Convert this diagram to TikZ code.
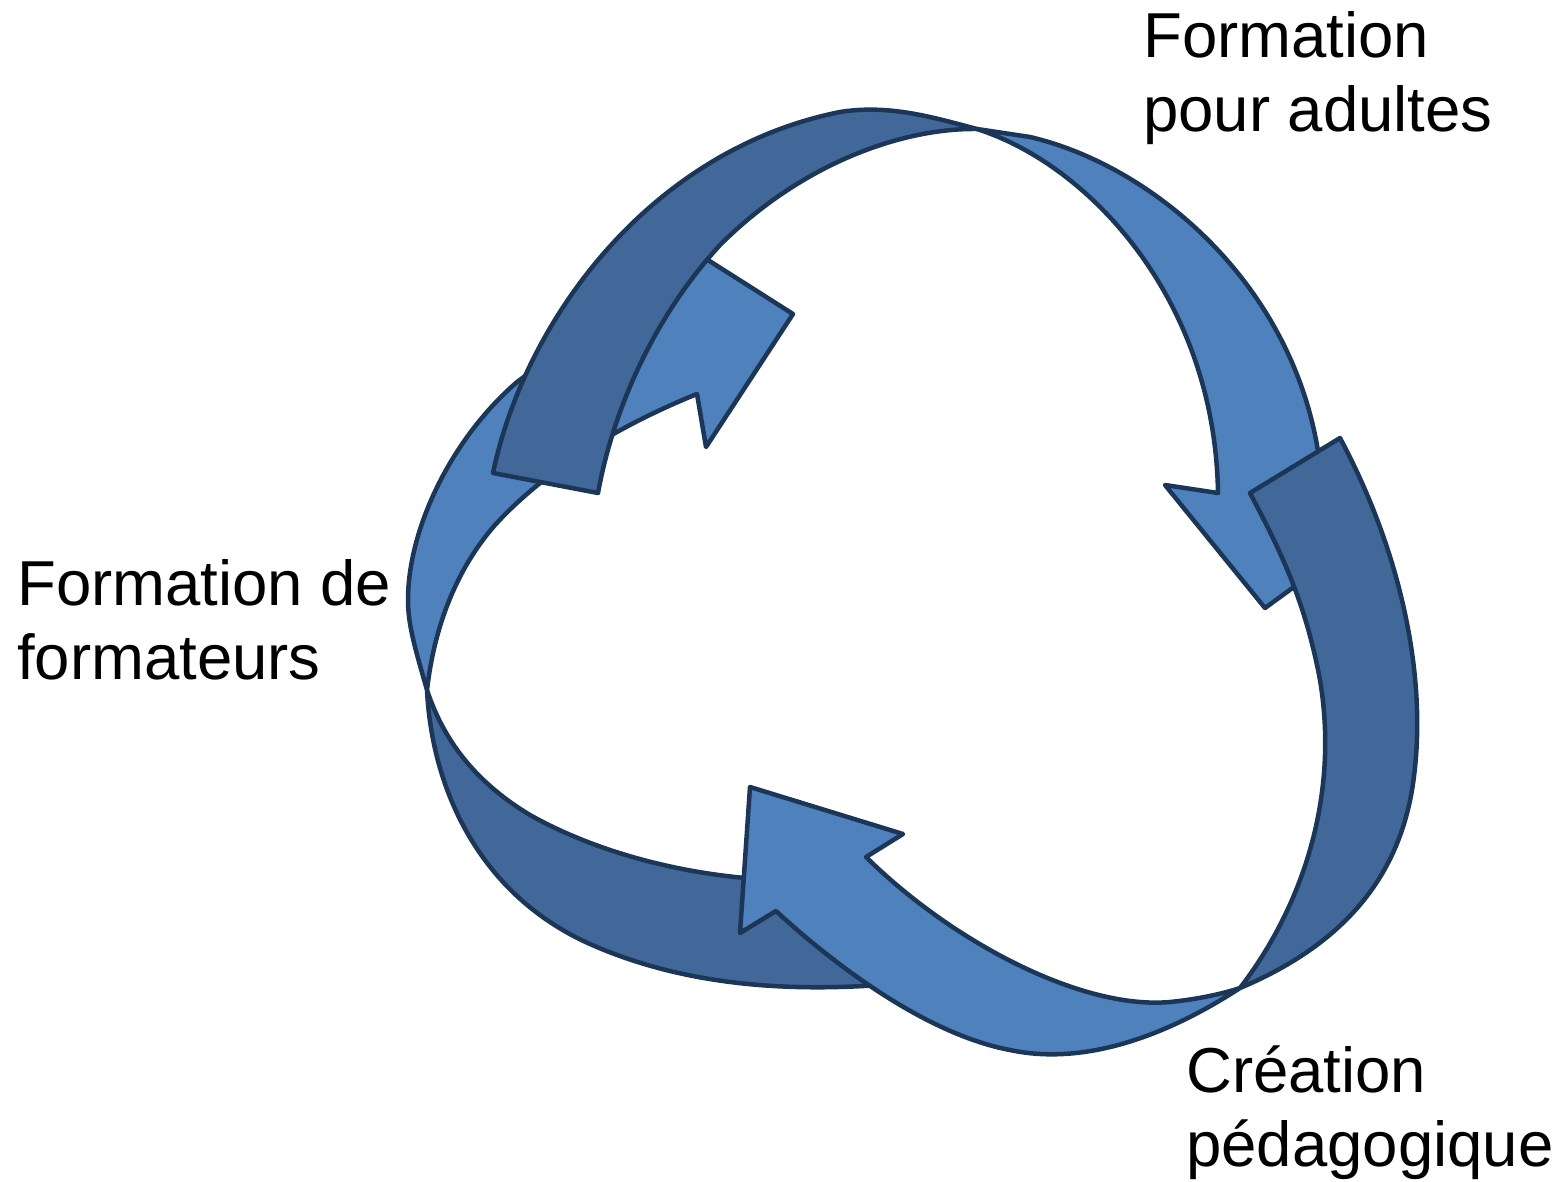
\documentclass[tikz,border=0pt]{standalone}
\usepackage{fontspec}
\setmainfont{Liberation Sans}
\definecolor{lightblue}{RGB}{79,129,189}
\definecolor{darkblue}{RGB}{65,104,153}
\definecolor{edgeblue}{RGB}{28,54,88}
\begin{document}
\begin{tikzpicture}[x=1pt,y=-1pt,line width=4.5pt,line join=round,
  lightpart/.style={fill=lightblue,draw=edgeblue},
  darkpart/.style={fill=darkblue,draw=edgeblue},
  lab/.style={anchor=base west,inner sep=0pt,align=left,font=\fontsize{63.5}{74}\selectfont}]
\useasboundingbox (0,0) rectangle (1558,1181);
% Arrow A: light head (upper left), dark tail (lower left)
\path[lightpart] (427,690) .. controls (415,648) and (408,625) .. (408,600)
  .. controls (408,530) and (450,440) .. (517,382) -- (640,290) -- (667,234)
  -- (793,314) -- (706,447) -- (697,394)
  .. controls (620,425) and (545,470) .. (495,525)
  .. controls (460,565) and (435,620) .. (427,690) -- cycle;
\path[darkpart] (427,690) .. controls (432,790) and (480,895) .. (590,944)
  .. controls (680,984) and (780,992) .. (880,985) -- (820,880)
  .. controls (720,884) and (610,860) .. (530,815)
  .. controls (480,785) and (445,745) .. (427,690) -- cycle;
% Arrow B: dark tail (upper left), light head (right)
\path[lightpart] (977,129) -- (1030,137) .. controls (1150,165) and (1290,280) .. (1318,451)
  -- (1318,500) -- (1310,515) -- (1335,557) -- (1265,608) -- (1165,485) -- (1218,493)
  .. controls (1215,300) and (1090,165) .. (977,129) -- cycle;
\path[darkpart] (493,473) .. controls (525,320) and (650,150) .. (840,112)
  .. controls (890,104) and (935,118) .. (977,129)
  .. controls (900,128) and (800,165) .. (720,245)
  .. controls (660,310) and (615,400) .. (598,493) -- cycle;
% Arrow C: dark tail (right), light head (bottom)
\path[lightpart] (1240,988) .. controls (1160,1040) and (1080,1065) .. (1010,1050)
  .. controls (930,1035) and (840,970) .. (776,911) -- (740,933) -- (750,787)
  -- (903,834) -- (866,857) .. controls (950,940) and (1080,1010) .. (1170,1002)
  .. controls (1200,999) and (1225,993) .. (1240,988) -- cycle;
\path[darkpart] (1340,438) .. controls (1400,550) and (1430,680) .. (1412,790)
  .. controls (1395,890) and (1330,950) .. (1240,988)
  .. controls (1300,910) and (1340,800) .. (1320,680)
  .. controls (1305,600) and (1280,550) .. (1250,493) -- cycle;
% Labels (anchored at the baseline of the last line)
\node[lab] (adultes) at (1141,131) {Formation\\pour adultes};
\node[lab] (formateurs) at (15,679) {Formation de\\formateurs};
\node[lab] (creation) at (1184,1166) {Création\\pédagogique};
\end{tikzpicture}
\end{document}
